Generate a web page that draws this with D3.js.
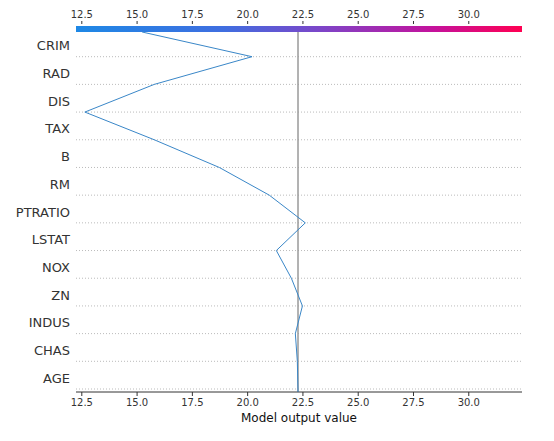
<!DOCTYPE html><html><head><meta charset="utf-8"><script src="https://cdn.jsdelivr.net/npm/d3@7"></script>
<style>body{margin:0;background:#fff}text{font-family:"DejaVu Sans",sans-serif}</style></head><body><svg id="c" width="554" height="441"></svg><script>
const features=["CRIM","RAD","DIS","TAX","B","RM","PTRATIO","LSTAT","NOX","ZN","INDUS","CHAS","AGE"];
// cumulative output at each boundary, top (after CRIM) to bottom (base value)
const pathValues=[15.25,20.22,15.8,12.66,15.8,18.74,21.0,22.63,21.32,22.0,22.5,22.18,22.27,22.3];
const baseValue=22.3;
const tickValues=[12.5,15,17.5,20,22.5,25,27.5,30];
const svg=d3.select("#c");
const x=d3.scaleLinear().domain([12.26,32.43]).range([76,522]);
const yTop=32,yBot=392,n=features.length,step=(yBot-yTop)/n;
const yB=i=>yTop+i*step;
const defs=svg.append("defs");const g=defs.append("linearGradient").attr("id","cb");
[["0%","#1E88E5"],["33%","#3f6ee0"],["55%","#7d45c8"],["80%","#c4129c"],["100%","#ff0052"]].forEach(s=>g.append("stop").attr("offset",s[0]).attr("stop-color",s[1]));
svg.append("rect").attr("x",76).attr("y",26).attr("width",446).attr("height",6).attr("fill","url(#cb)");
for(let i=1;i<=n;i++){svg.append("line").attr("x1",76).attr("x2",522).attr("y1",yB(i)-3).attr("y2",yB(i)-3).attr("stroke","#bbb").attr("stroke-dasharray","1,2").attr("stroke-width",1);}
features.forEach((f,i)=>svg.append("text").attr("x",70).attr("y",yB(i)+step/2+1).attr("text-anchor","end").attr("dominant-baseline","middle").attr("font-size",13).attr("fill","#333").text(f));
svg.append("line").attr("x1",x(baseValue)).attr("x2",x(baseValue)).attr("y1",32).attr("y2",yBot).attr("stroke","#999").attr("stroke-width",1.5);
const topAxis=svg.append("g").attr("transform","translate(0,24)").call(d3.axisTop(x).tickValues(tickValues).tickFormat(d3.format(".1f")).tickSize(3));
const botAxis=svg.append("g").attr("transform",`translate(0,${yBot})`).call(d3.axisBottom(x).tickValues(tickValues).tickFormat(d3.format(".1f")).tickSize(4));
[topAxis,botAxis].forEach(a=>{a.selectAll("text").attr("font-size",10).attr("fill","#333");a.selectAll(".tick line").attr("stroke","#333");});
topAxis.select(".domain").remove();botAxis.select(".domain").attr("stroke","#333").attr("d","M76,0H522");
svg.append("text").attr("x",299).attr("y",422).attr("text-anchor","middle").attr("font-size",12).attr("fill","#111").text("Model output value");
const pts=pathValues.map((v,i)=>[x(v),i==0?32:(i==n?yBot:yB(i)-3)]);
svg.append("path").attr("d",d3.line()(pts)).attr("fill","none").attr("stroke","#3a87c8").attr("stroke-width",1);
</script></body></html>
